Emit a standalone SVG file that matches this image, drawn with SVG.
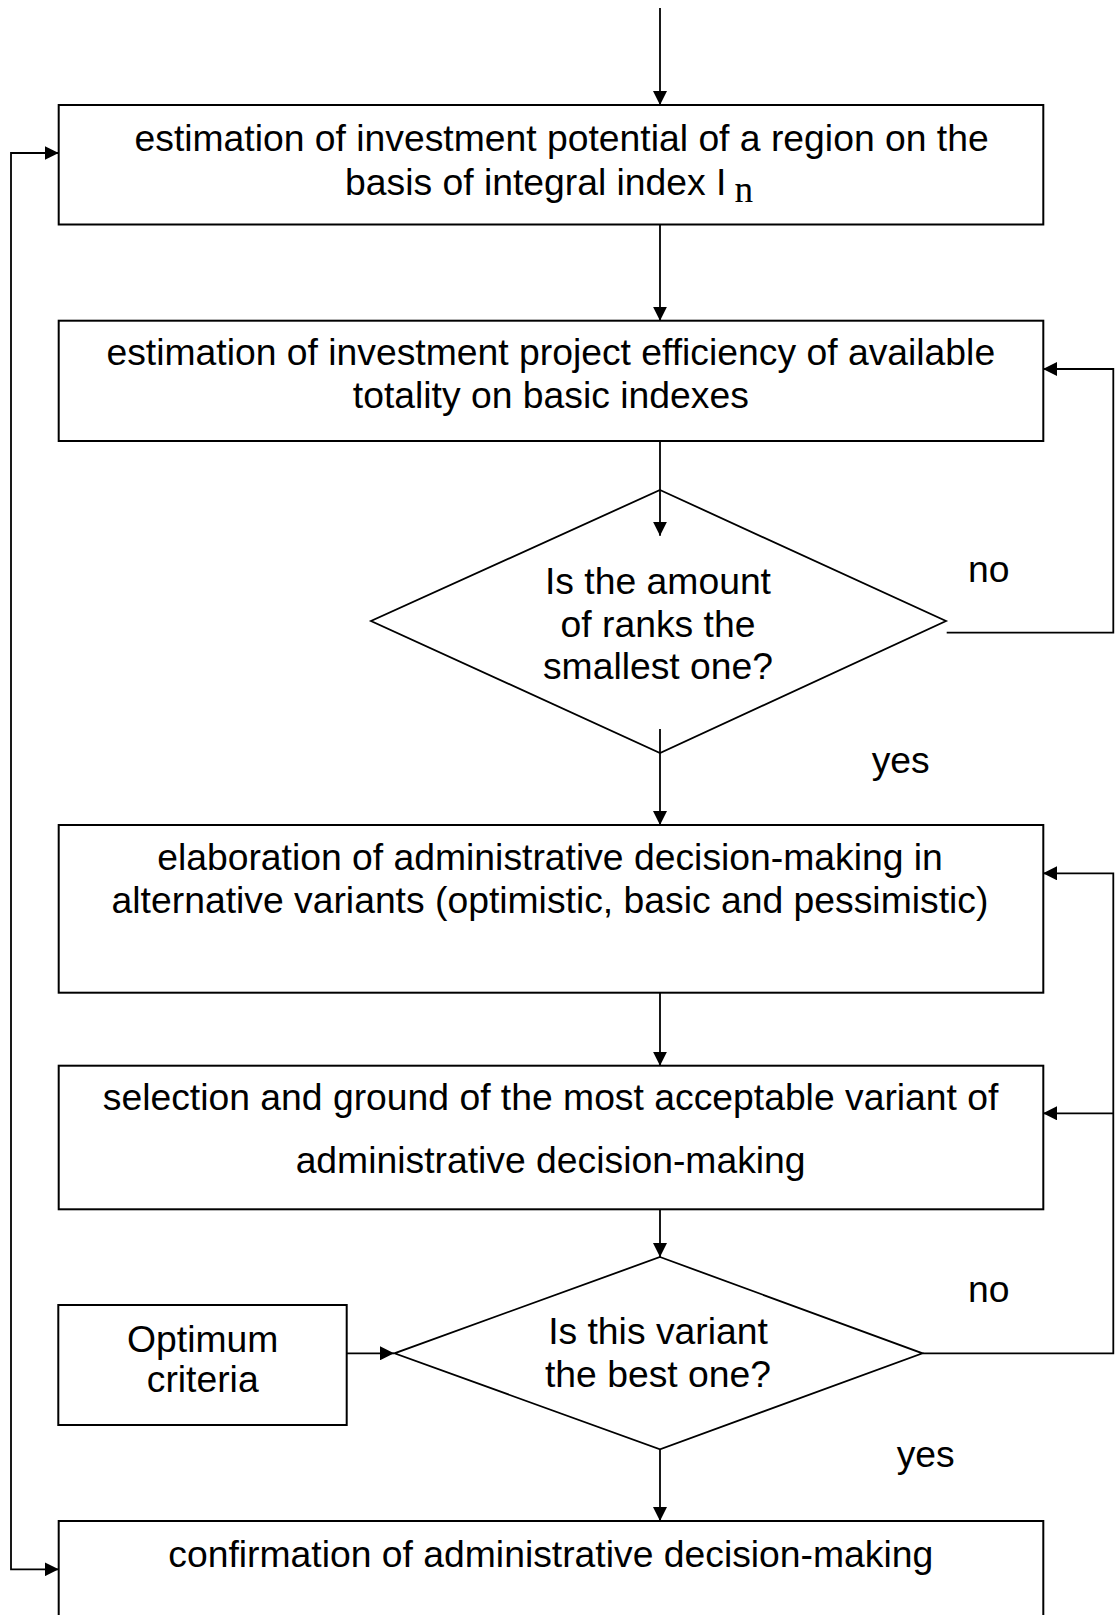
<svg xmlns="http://www.w3.org/2000/svg" width="1115" height="1615" viewBox="0 0 1115 1615">
  <style>
    .box { fill: #ffffff; stroke: #000000; stroke-width: 2; }
    .dia { fill: none; stroke: #000000; stroke-width: 1.8; }
    .line { fill: none; stroke: #000000; stroke-width: 1.8; }
    text { font-family: "Liberation Sans", Arial, sans-serif; font-size: 37.3px; fill: #000000; }
    .c { text-anchor: middle; }
    .sub { font-family: "Liberation Serif", "Times New Roman", serif; }
  </style>
  <defs>
    <marker id="arrow" markerUnits="userSpaceOnUse" markerWidth="15" markerHeight="14" refX="14" refY="7" orient="auto-start-reverse">
      <path d="M0,0 L14,7 L0,14 z" fill="#000000"/>
    </marker>
  </defs>
  <rect width="1115" height="1615" fill="#ffffff"/>

  <g id="potential">
    <rect class="box" x="58.7" y="105" width="984.6" height="119.5"/>
    <text class="c" x="561.6" y="150.7">estimation of investment potential of a region on the</text>
    <text x="345" y="195">basis of integral index I<tspan class="sub" dx="8" dy="7">n</tspan></text>
  </g>

  <g id="efficiency">
    <rect class="box" x="58.7" y="320.7" width="984.6" height="120.3"/>
    <text class="c" x="550.8" y="365">estimation of investment project efficiency of available</text>
    <text class="c" x="550.8" y="408">totality on basic indexes</text>
  </g>

  <g id="ranks">
    <polygon class="dia" points="660,490 946,621 660,753 371,621"/>
    <text class="c" x="658" y="594">Is the amount</text>
    <text class="c" x="658" y="636.7">of ranks the</text>
    <text class="c" x="658" y="679">smallest one?</text>
  </g>

  <g id="elaboration">
    <rect class="box" x="58.7" y="825" width="984.6" height="167.7"/>
    <text class="c" x="550" y="870">elaboration of administrative decision-making in</text>
    <text class="c" x="550" y="912.7">alternative variants (optimistic, basic and pessimistic)</text>
  </g>

  <g id="selection">
    <rect class="box" x="58.7" y="1065.7" width="984.6" height="143.6"/>
    <text class="c" x="550.6" y="1110">selection and ground of the most acceptable variant of</text>
    <text class="c" x="550.6" y="1172.7">administrative decision-making</text>
  </g>

  <g id="criteria">
    <rect class="box" x="58.3" y="1305" width="288.4" height="120"/>
    <text class="c" x="202.7" y="1351.7">Optimum</text>
    <text class="c" x="202.7" y="1391.7">criteria</text>
  </g>

  <g id="best">
    <polygon class="dia" points="660,1257 922.5,1353.3 660,1449.3 394.5,1353.3"/>
    <text class="c" x="658" y="1344">Is this variant</text>
    <text class="c" x="658" y="1386.7">the best one?</text>
  </g>

  <g id="confirmation">
    <rect class="box" x="58.7" y="1521" width="984.6" height="110"/>
    <text class="c" x="550.8" y="1567.3">confirmation of administrative decision-making</text>
  </g>

  <!-- connectors are drawn over the nodes so lines crossing into the diamonds stay visible -->
  <g id="connectors">
    <path class="line" d="M660,8 V105" marker-end="url(#arrow)"/>
    <path class="line" d="M660,224.5 V320.7" marker-end="url(#arrow)"/>
    <path class="line" d="M660,441 V535.7" marker-end="url(#arrow)"/>
    <path class="line" d="M660,729 V825" marker-end="url(#arrow)"/>
    <path class="line" d="M946.7,632.7 H1113.3 V369 H1043" marker-end="url(#arrow)"/>
    <path class="line" d="M660,992.7 V1065.7" marker-end="url(#arrow)"/>
    <path class="line" d="M660,1209.3 V1257" marker-end="url(#arrow)"/>
    <path class="line" d="M346.7,1353.3 H394" marker-end="url(#arrow)"/>
    <path class="line" d="M922.5,1353.3 H1113.3 V873.3 H1043" marker-end="url(#arrow)"/>
    <path class="line" d="M1113.3,1113.3 H1043" marker-end="url(#arrow)"/>
    <path class="line" d="M660,1449.3 V1521" marker-end="url(#arrow)"/>
    <path class="line" d="M58.7,153 H11 V1569.3 H58.7" marker-start="url(#arrow)" marker-end="url(#arrow)"/>
  </g>

  <g id="labels">
    <text x="968" y="581.7">no</text>
    <text x="871.7" y="773.3">yes</text>
    <text x="968" y="1301.7">no</text>
    <text x="896.7" y="1467.3">yes</text>
  </g>
</svg>
